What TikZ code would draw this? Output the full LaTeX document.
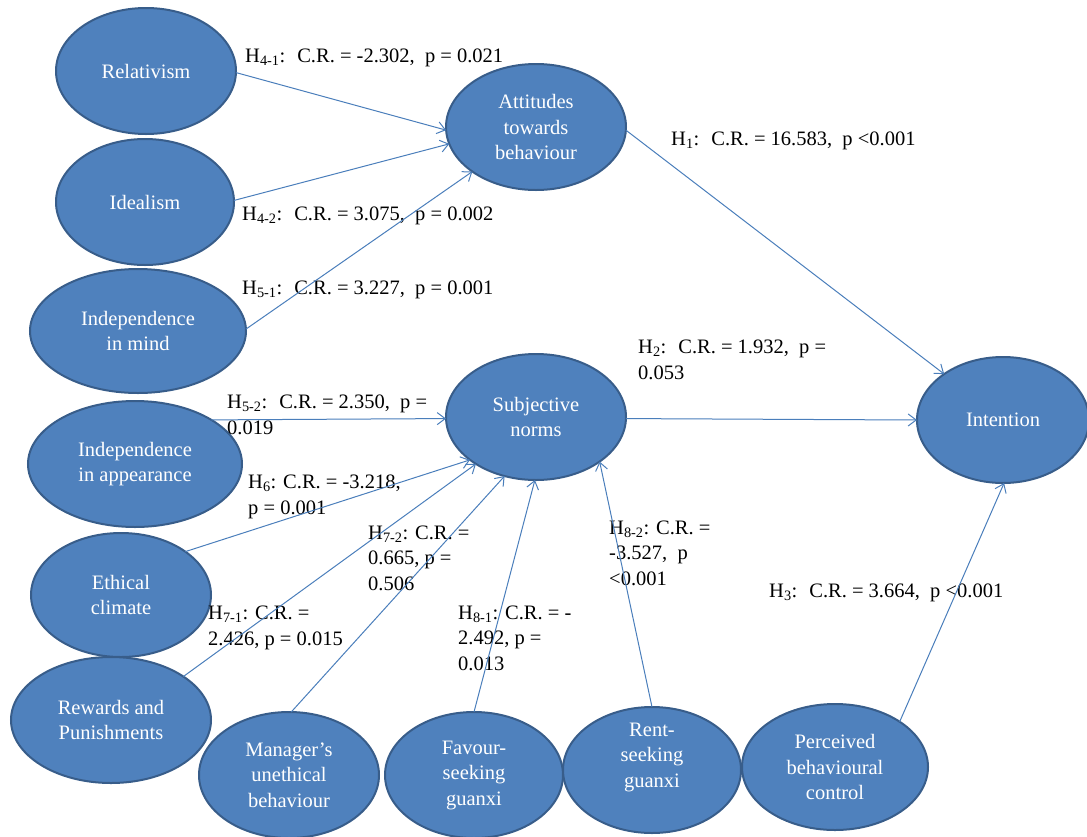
\documentclass[tikz,border=0pt]{standalone}
\usepackage{fontspec}
\setmainfont{Liberation Serif}
\usetikzlibrary{shapes.geometric,arrows.meta}
\definecolor{ellfill}{HTML}{4F81BD}
\definecolor{elldraw}{HTML}{385D8A}
\definecolor{linkblue}{HTML}{4A7EBB}
\newcommand{\hyp}[1]{H\textsubscript{#1}}
\tikzset{
  ell/.style 2 args={ellipse, draw=elldraw, fill=ellfill, line width=2pt,
    minimum width=#1, minimum height=#2, inner sep=0pt, outer sep=0pt,
    text=white, align=center,
    font=\fontsize{20.5}{25.5}\selectfont},
  ntext/.style={text=white, align=center, inner sep=0pt,
    font=\fontsize{20.5}{25.5}\selectfont},
  lbl/.style={anchor=base west, align=left, inner sep=0pt, text=black,
    font=\fontsize{20.5}{25.5}\selectfont},
  link/.style={draw=linkblue, line width=1pt,
    -{Straight Barb[length=8pt,width=12pt]}}
}
\begin{document}
\begin{tikzpicture}[x=1pt,y=-1pt]
\useasboundingbox (0,0) rectangle (1087,836);

% constructs
\node[ell={180pt}{126pt}] (rel)  at (146,71)  {Relativism};
\node[ell={178pt}{126pt}] (ide)  at (145,202) {Idealism};
\node[ell={180pt}{126pt}] (att)  at (536,127) {Attitudes\\towards\\behaviour};
\node[ell={216pt}{124pt}] (mind) at (138,331) {Independence\\in mind};
\node[ell={214pt}{126pt}] (app)  at (135,464) {Independence\\in appearance};
\node[ell={180pt}{126pt}] (sub)  at (536,417) {Subjective\\norms};
\node[ell={172pt}{126pt}] (int)  at (1003,420) {Intention};
\node[ell={180pt}{124pt}] (eth)  at (121,595) {Ethical\\climate};
\node[ell={200pt}{126pt}] (rew)  at (111,720) {Rewards and\\Punishments};
\node[ell={180pt}{126pt}] (man)  at (289,775) {Manager's\\unethical\\behaviour};
\node[ell={178pt}{126pt}] (fav)  at (474,775) {Favour-\\seeking\\guanxi};
\node[ell={178pt}{126pt}] (rent) at (652,770) {};
\node[ntext, yshift=13pt] (rentt) at (rent.center) {Rent-\\seeking\\guanxi};
\node[ell={186pt}{126pt}] (pbc)  at (835,767) {Perceived\\behavioural\\control};

% path coefficients (anchored on the baseline of the last line)
\node[lbl] (l41) at (245,62)  {\hyp{4-1}:~ C.R. = -2.302,~ p = 0.021};
\node[lbl] (l42) at (242,220) {\hyp{4-2}:~ C.R. = 3.075,~ p = 0.002};
\node[lbl] (l51) at (242,294) {\hyp{5-1}:~ C.R. = 3.227,~ p = 0.001};
\node[lbl] (l1)  at (671,145) {\hyp{1}:~ C.R. = 16.583,~ p <0.001};
\node[lbl] (l2)  at (638,379) {\hyp{2}:~ C.R. = 1.932,~ p =\\0.053};
\node[lbl] (l52) at (227,434) {\hyp{5-2}:~ C.R. = 2.350,~ p =\\0.019};
\node[lbl] (l6)  at (248,514) {\hyp{6}: C.R. = -3.218,\\p = 0.001};
\node[lbl] (l72) at (368,590) {\hyp{7-2}: C.R. =\\0.665, p =\\0.506};
\node[lbl] (l71) at (208,645) {\hyp{7-1}: C.R. =\\2.426, p = 0.015};
\node[lbl] (l81) at (458,670) {\hyp{8-1}: C.R. = -\\2.492, p =\\0.013};
\node[lbl] (l82) at (609,585) {\hyp{8-2}: C.R. =\\-3.527,~ p\\<0.001};
\node[lbl] (l3)  at (769,597) {\hyp{3}:~ C.R. = 3.664,~ p <0.001};

% paths
\draw[link] (rel.-1)  -- (att.182);
\draw[link] (ide.1)   -- (att.191);
\draw[link] (mind.1)  -- (att.215);
\draw[link] (att.-2)  -- (int.142);
\draw[link] (app.30)  -- (sub.181);
\draw[link] (sub.-1)  -- (int.180);
\draw[link] (eth.34)  -- (sub.213);
\draw[link] (rew.31)  -- (sub.218);
\draw[link] (man.88)  -- (sub.242);
\draw[link] (fav.90)  -- (sub.269);
\draw[link] (rent.90) -- (sub.-35);
\draw[link] (pbc.35)  -- (int.-89);
\end{tikzpicture}
\end{document}
